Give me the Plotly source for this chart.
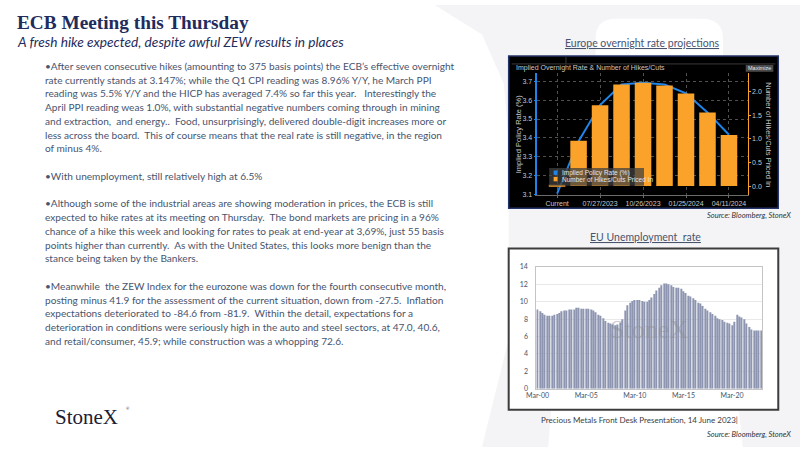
import plotly.graph_objects as go

W, H = 800, 450


def px(x):
    return x / W


def py(y):
    return 1 - y / H


def path(points, close=True):
    s = "M " + " L ".join(f"{px(x):.5f},{py(y):.5f}" for x, y in points)
    return s + (" Z" if close else "")


# ---------------- Chart 1 data: Europe overnight rate projections ----------------
meeting_labels = ["Current", "06/15/2023", "07/27/2023", "09/14/2023", "10/26/2023",
                  "12/14/2023", "01/25/2024", "03/07/2024", "04/11/2024"]
implied_rate = [3.105, 3.383, 3.574, 3.683, 3.692, 3.683, 3.636, 3.535, 3.417]
hikes_priced = [0.02, 0.96, 1.71, 2.15, 2.19, 2.13, 1.96, 1.56, 1.08]
rate_ticklabels = ["Current", "07/27/2023", "10/26/2023", "01/25/2024", "04/11/2024"]

# ---------------- Chart 2 data: EU unemployment rate (quarterly) ----------------
quarter_labels = [f"{m}-{y:02d}" for y in range(0, 24) for m in ("Mar", "Jun", "Sep", "Dec")][:93]
unemployment = [
    9.1, 8.9, 8.7, 8.5,     # 2000
    8.4, 8.4, 8.4, 8.5,     # 2001
    8.6, 8.7, 8.9, 9.0,     # 2002
    9.0, 9.1, 9.1, 9.1,     # 2003
    9.3, 9.3, 9.2, 9.2,     # 2004
    9.2, 9.2, 9.1, 9.0,     # 2005
    8.8, 8.5, 8.4, 8.1,     # 2006
    7.8, 7.6, 7.5, 7.4,     # 2007
    7.3, 7.4, 7.6, 8.0,     # 2008
    9.0, 9.6, 9.9, 10.1,    # 2009
    10.2, 10.2, 10.2, 10.1,  # 2010
    10.0, 10.0, 10.2, 10.5,  # 2011
    10.9, 11.3, 11.6, 11.9,  # 2012
    12.1, 12.1, 12.0, 11.9,  # 2013
    11.7, 11.6, 11.6, 11.5,  # 2014
    11.2, 11.0, 10.7, 10.6,  # 2015
    10.4, 10.2, 9.9, 9.8,   # 2016
    9.5, 9.2, 9.0, 8.8,     # 2017
    8.6, 8.4, 8.1, 8.0,     # 2018
    7.9, 7.7, 7.6, 7.5,     # 2019
    7.3, 7.7, 8.5, 8.3,     # 2020
    8.2, 8.0, 7.5, 7.1,     # 2021
    6.8, 6.7, 6.7, 6.7,     # 2022
    6.7,                    # 2023
]
unemp_ticklabels = ["Mar-00", "Mar-05", "Mar-10", "Mar-15", "Mar-20"]

# ---------------- Slide text ----------------
title_text = "ECB Meeting this Thursday"
subtitle_text = "A fresh hike expected, despite awful ZEW results in places"
body_lines = [
    (62, "•After seven consecutive hikes (amounting to 375 basis points) the ECB’s effective overnight"),
    (76, "rate currently stands at 3.147%; while the Q1 CPI reading was 8.96% Y/Y, he March PPI"),
    (90, "reading was 5.5% Y/Y and the HICP has averaged 7.4% so far this year.   Interestingly the"),
    (104, "April PPI reading weas 1.0%, with substantial negative numbers coming through in mining"),
    (118, "and extraction,  and energy..  Food, unsurprisingly, delivered double-digit increases more or"),
    (132, "less across the board.  This of course means that the real rate is still negative, in the region"),
    (146, "of minus 4%."),
    (174, "•With unemployment, still relatively high at 6.5%"),
    (202, "•Although some of the industrial areas are showing moderation in prices, the ECB is still"),
    (216, "expected to hike rates at its meeting on Thursday.  The bond markets are pricing in a 96%"),
    (230, "chance of a hike this week and looking for rates to peak at end-year at 3,69%, just 55 basis"),
    (244, "points higher than currently.  As with the United States, this looks more benign than the"),
    (258, "stance being taken by the Bankers."),
    (286, "•Meanwhile  the ZEW Index for the eurozone was down for the fourth consecutive month,"),
    (300, "posting minus 41.9 for the assessment of the current situation, down from -27.5.  Inflation"),
    (314, "expectations deteriorated to -84.6 from -81.9.  Within the detail, expectations for a"),
    (328, "deterioration in conditions were seriously high in the auto and steel sectors, at 47.0, 40.6,"),
    (342, "and retail/consumer, 45.9; while construction was a whopping 72.6."),
]

NAVY = "#1f2c5c"
BODY = "#48546e"
BLUE = "#1f84e8"
ORANGE = "#faa22a"
BBG_TXT = "#c8c8c8"
BAR2 = "#8d95b0"
WM = "#f4f4f6"
SANS = "Lato, 'Open Sans', sans-serif"
BBG_FONT = "'Liberation Sans', Arial, sans-serif"
SERIF = "'Liberation Serif', 'DejaVu Serif', serif"

fig = go.Figure()

# Chart 1 traces
fig.add_trace(go.Bar(
    x=meeting_labels, y=hikes_priced, xaxis="x", yaxis="y2",
    marker=dict(color=ORANGE, line=dict(width=0)), width=0.77,
    name="Number of Hikes/Cuts Priced In", showlegend=False,
))
fig.add_trace(go.Scatter(
    x=meeting_labels, y=implied_rate, xaxis="x", yaxis="y",
    mode="lines", line=dict(color=BLUE, width=2),
    name="Implied Policy Rate (%)", showlegend=False,
))

# Chart 2 traces
fig.add_trace(go.Bar(
    x=quarter_labels, y=unemployment, xaxis="x2", yaxis="y3",
    marker=dict(color=BAR2, line=dict(width=0)), width=0.5,
    name="EU Unemployment rate", showlegend=False,
))

shapes = []
# background watermark (faint StoneX X)
shapes.append(dict(type="path", xref="paper", yref="paper", layer="below",
                   path=path([(430, 0), (800, 0), (800, 450), (478, 450), (505, 340), (505, 140),
                              (500, 80), (478, 30)]),
                   fillcolor=WM, line=dict(width=0)))
shapes.append(dict(type="path", xref="paper", yref="paper", layer="below",
                   path=f"M {px(593)},{py(70)} L {px(593)},{py(34)} Q {px(593)},{py(14)} {px(614)},{py(14)} "
                        f"L {px(700)},{py(14)} Q {px(722)},{py(14)} {px(722)},{py(34)} L {px(722)},{py(70)} Z",
                   fillcolor="white", line=dict(width=0)))
shapes.append(dict(type="path", xref="paper", yref="paper", layer="below",
                   path=path([(548, 412), (738, 412), (742, 450), (545, 450)]),
                   fillcolor="white", line=dict(width=0)))
# chart 1 black panel
shapes.append(dict(type="rect", xref="paper", yref="paper", layer="below",
                   x0=px(505), x1=px(778), y0=py(207), y1=py(52),
                   fillcolor="black", line=dict(color="#24346a", width=1.5)))
shapes.append(dict(type="line", xref="paper", yref="paper", layer="below",
                   x0=px(508), x1=px(775), y0=py(60), y1=py(60), line=dict(color="#3a3a3a", width=1)))
shapes.append(dict(type="line", xref="paper", yref="paper", layer="below",
                   x0=px(563), x1=px(563), y0=py(53), y1=py(60), line=dict(color="#3a3a3a", width=1)))
# maximize button
shapes.append(dict(type="rect", xref="paper", yref="paper", layer="above",
                   x0=px(745), x1=px(773), y0=py(68), y1=py(61),
                   fillcolor="#4a4a4a", line=dict(width=0)))
# chart 1 legend
shapes.append(dict(type="rect", xref="paper", yref="paper", layer="above",
                   x0=px(546), x1=px(642), y0=py(184), y1=py(166),
                   fillcolor="rgba(64,64,64,0.75)", line=dict(width=0)))
shapes.append(dict(type="rect", xref="paper", yref="paper", layer="above",
                   x0=px(550.5), x1=px(554.5), y0=py(173), y1=py(168.5),
                   fillcolor=BLUE, line=dict(width=0)))
shapes.append(dict(type="rect", xref="paper", yref="paper", layer="above",
                   x0=px(550.5), x1=px(554.5), y0=py(179.5), y1=py(175),
                   fillcolor=ORANGE, line=dict(width=0)))
# chart 2 white panel
shapes.append(dict(type="rect", xref="paper", yref="paper", layer="below",
                   x0=px(505), x1=px(778), y0=py(412), y1=py(248),
                   fillcolor="white", line=dict(color="#3c3c3c", width=2)))

annotations = []


def ann(x, y, text, size, color, family=SANS, xanchor="left", yanchor="middle", **kw):
    annotations.append(dict(xref="paper", yref="paper", x=px(x), y=py(y), text=text,
                            showarrow=False, xanchor=xanchor, yanchor=yanchor,
                            font=dict(size=size, color=color, family=family), **kw))


ann(5, 18, f"<b>{title_text}</b>", 19.3, NAVY, family=SERIF)
ann(5, 37, f"<i>{subtitle_text}</i>", 13.7, NAVY)
for yy, t in body_lines:
    ann(33, yy, t, 10.1, BODY)

ann(44, 419, "StoneX", 21, "#1c2033", family=SERIF)
ann(119, 411, "®", 4, "#1c2033", xanchor="center")

# chart 1 labels
ann(640, 39, "<u>Europe overnight rate projections</u>", 10.5, BODY, xanchor="center")
ann(510, 64.5, "Implied Overnight Rate &amp; Number of Hikes/Cuts", 7, BBG_TXT, family=BBG_FONT)
ann(759, 64.5, "Maximize", 5.5, "#e8e8e8", family=BBG_FONT, xanchor="center")
ann(515, 132, "Implied Policy Rate (%)", 7.5, BBG_TXT, family=BBG_FONT, xanchor="center", textangle=-90)
ann(768, 132, "Number of Hikes/Cuts Priced In", 7.5, BBG_TXT, family=BBG_FONT, xanchor="center", textangle=90)
ann(557, 170.8, "Implied Policy Rate (%)", 6.5, "#e6e6e6", family=BBG_FONT)
ann(557, 177.6, "Number of Hikes/Cuts Priced In", 6.5, "#e6e6e6", family=BBG_FONT)
ann(793, 214, "<i>Source: Bloomberg, StoneX</i>", 7.5, "#333333", xanchor="right")

# chart 2 labels
ann(644, 236, "<u>EU Unemployment  rate</u>", 10.5, BODY, xanchor="center")
ann(647, 330, "StoneX", 26, "rgba(140,140,150,0.45)", family=SERIF, xanchor="center")
ann(637, 423, "Precious Metals Front Desk Presentation, 14 June 2023|", 8, "#404040", xanchor="center")
ann(793, 437, "<i>Source: Bloomberg, StoneX</i>", 7.5, "#333333", xanchor="right")

fig.update_layout(
    width=W, height=H,
    margin=dict(l=0, r=0, t=0, b=0),
    paper_bgcolor="white",
    plot_bgcolor="rgba(0,0,0,0)",
    showlegend=False,
    shapes=shapes,
    annotations=annotations,
    xaxis=dict(
        domain=[px(534), px(747)], anchor="y", type="category",
        range=[-0.92, 8.87], tickvals=rate_ticklabels, ticktext=rate_ticklabels,
        tickfont=dict(size=7, color=BBG_TXT, family=BBG_FONT),
        showgrid=True, gridcolor="#505050", griddash="dot", gridwidth=1,
        showline=True, linecolor="#6a6a6a", linewidth=1,
        ticks="outside", ticklen=2, tickcolor="#6a6a6a", zeroline=False, fixedrange=True,
    ),
    yaxis=dict(
        domain=[py(193), py(69)], anchor="x", range=[3.1, 3.745],
        dtick=0.1, tick0=3.1, tickformat=".1f",
        tickfont=dict(size=7, color=BBG_TXT, family=BBG_FONT),
        showgrid=True, gridcolor="#505050", griddash="dot", gridwidth=1,
        showline=True, linecolor=BLUE, linewidth=1.5,
        ticks="outside", ticklen=2, tickcolor=BLUE, zeroline=False,
    ),
    yaxis2=dict(
        overlaying="y", side="right", anchor="x", range=[-0.18, 2.40],
        dtick=0.5, tick0=0, tickformat=".1f",
        tickfont=dict(size=7, color=BBG_TXT, family=BBG_FONT),
        showgrid=False, showline=True, linecolor=ORANGE, linewidth=1,
        ticks="outside", ticklen=2, tickcolor=ORANGE, zeroline=False,
    ),
    xaxis2=dict(
        domain=[px(533), px(762)], anchor="y3", type="category",
        range=[-0.5, len(quarter_labels) - 0.5],
        tickvals=unemp_ticklabels, ticktext=unemp_ticklabels,
        tickfont=dict(size=7, color="#44546a", family=SANS),
        showgrid=False, showline=True, mirror=True, linecolor="#c4c4c4", linewidth=1,
        ticks="", zeroline=False,
    ),
    yaxis3=dict(
        domain=[py(390.7), py(266.7)], anchor="x2", range=[0, 14], dtick=2,
        tickfont=dict(size=7, color="#44546a", family=SANS),
        showgrid=True, gridcolor="#e9e9e9", gridwidth=1,
        showline=True, mirror=True, linecolor="#c4c4c4", linewidth=1,
        ticks="", zeroline=False, ticklabelstandoff=6,
    ),
)

fig.write_html(
    "out.html",
    config={"displayModeBar": False},
    post_script="document.body.style.margin='0';document.body.style.overflow='hidden';",
)
